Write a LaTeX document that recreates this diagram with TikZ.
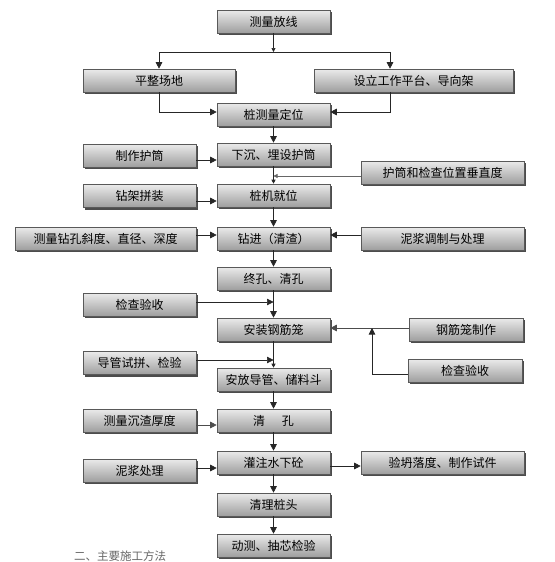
\documentclass[tikz,border=0pt]{standalone}
\usepackage{fontspec}
\newfontfamily\cjk{Noto Sans CJK SC}
\usetikzlibrary{arrows.meta,shadows}
\begin{document}
\begin{tikzpicture}[x=1pt,y=-1pt,
  box/.style={draw=black!65, line width=0.6pt, rectangle, inner sep=0pt,
    minimum height=23pt, top color=black!8, middle color=white, bottom color=black!38,
    drop shadow={shadow xshift=2.2pt, shadow yshift=-2.2pt, fill=black!70, opacity=1},
    font=\cjk\fontsize{12}{14}\selectfont, text=black},
  cw/.style={minimum width=113pt},
  ln/.style={draw=black!85, line width=0.6pt},
  arr/.style={ln, -{Triangle[length=6.5pt,width=6.5pt]}},
  sarr/.style={ln, -{Triangle[length=4pt,width=4pt]}}]
\useasboundingbox (0,0) rectangle (554,562);
% boxes
\node[box,cw] (A) at (273.5,21.5) {测量放线};
\node[box,minimum width=152pt] (B) at (159,80.5) {平整场地};
\node[box,minimum width=199pt] (C) at (413.5,80.5) {设立工作平台、导向架};
\node[box,cw] (D) at (273.5,114.5) {桩测量定位};
\node[box,cw] (E) at (139.5,155.5) {制作护筒};
\node[box,cw] (F) at (273.5,154.5) {下沉、埋设护筒};
\node[box,minimum width=163pt] (G) at (442.5,172.5) {护筒和检查位置垂直度};
\node[box,cw] (H) at (139.5,196) {钻架拼装};
\node[box,cw] (I) at (273.5,195.5) {桩机就位};
\node[box,minimum width=181pt] (J) at (105.5,238.5) {测量钻孔斜度、直径、深度};
\node[box,cw] (K) at (273.5,238.5) {钻进（清渣）};
\node[box,minimum width=163pt] (L) at (442.5,238.5) {泥浆调制与处理};
\node[box,cw] (M) at (273.5,278.5) {终孔、清孔};
\node[box,cw] (N) at (139.5,304.5) {检查验收};
\node[box,cw] (O) at (273.5,329.5) {安装钢筋笼};
\node[box,minimum width=114pt] (P) at (466,329.5) {钢筋笼制作};
\node[box,minimum width=114pt] (Q) at (465,370.5) {检查验收};
\node[box,cw] (R) at (139.5,363) {导管试拼、检验};
\node[box,cw] (S) at (273.5,379.5) {安放导管、储料斗};
\node[box,cw] (T) at (139.5,420.5) {测量沉渣厚度};
\node[box,cw] (U) at (273.5,420.5) {清\hspace{1.4em}孔};
\node[box,cw] (V) at (139.5,470.5) {泥浆处理};
\node[box,cw] (W) at (273.5,462.5) {灌注水下砼};
\node[box,minimum width=163pt] (X) at (442.5,462.5) {验坍落度、制作试件};
\node[box,cw] (Y) at (273.5,504.5) {清理桩头};
\node[box,cw] (Z) at (273.5,545.5) {动测、抽芯检验};
\node[font=\cjk\fontsize{11.5}{13}\selectfont, text=black!60] (cap) at (120,556) {二、主要施工方法};
% split
\coordinate (s0) at (273.5,52);
\coordinate (sl) at (159,52);
\coordinate (sr) at (390,52);
\draw[sarr] (A.south) -- (s0);
\draw[ln] (sl) -- (sr);
\draw[arr] (sl) -- (B.north);
\draw[arr] (sr) -- (sr |- C.north);
% merge
\coordinate (ml) at (159,112);
\coordinate (mr) at (390,112);
\draw[arr] (B.south) -- (ml) -- (D.west |- ml);
\draw[arr] (sr |- C.south) -- (mr) -- (D.east |- mr);
% main column
\draw[arr] (D.south) -- (F.north);
\draw[sarr] (F.south) -- (I.north);
\draw[arr] (I.south) -- (K.north);
\draw[arr] (K.south) -- (M.north);
\draw[arr] (M.south) -- (O.north);
\draw[sarr] (O.south) -- (S.north);
\draw[arr] (S.south) -- (U.north);
\draw[arr] (U.south) -- (W.north);
\draw[arr] (W.south) -- (Y.north);
\draw[arr] (Y.south) -- (Z.north);
% side inputs
\draw[arr] (E.east |- 0,160) -- (F.west |- 0,160);
\draw[sarr, draw=black!60] (G.west |- 0,176) -- (F.south |- 0,176);
\draw[arr] (H.east |- 0,201) -- (I.west |- 0,201);
\draw[arr] (J.east |- 0,235) -- (K.west |- 0,235);
\draw[arr] (L.west |- 0,235) -- (K.east |- 0,235);
\draw[arr] (N.east |- 0,302) -- (M.south |- 0,302);
\draw[arr, draw=black!70] (P.west |- 0,328) -- (O.east |- 0,328);
\coordinate (qc) at (372,374);
\draw[arr] (Q.west |- qc) -- (qc) -- (372,328);
\draw[arr] (R.east |- 0,360) -- (O.south |- 0,360);
\draw[arr, draw=black!70] (T.east |- 0,425) -- (U.west |- 0,425);
\draw[arr] (V.east |- 0,468) -- (W.west |- 0,468);
\draw[arr] (W.east |- 0,466) -- (X.west |- 0,466);
\end{tikzpicture}
\end{document}
